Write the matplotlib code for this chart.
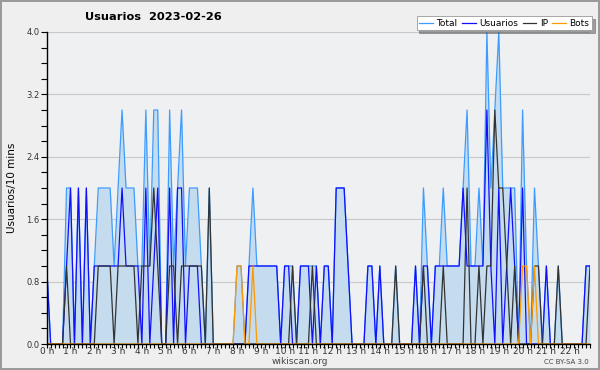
"""
Usuarios por 10 minutos - 2023-02-26 (wikiscan)
"""

import matplotlib
matplotlib.use("Agg")
import matplotlib.pyplot as plt
from matplotlib.ticker import MultipleLocator, FixedLocator
import numpy as np

# values per 10-minute slot, starting at 0:00 (last slot 22:50)
usuarios = [1, 0, 0, 0, 0, 1, 2, 0, 2, 0, 2, 0,
            1, 1, 1, 1, 1, 1, 1, 2, 1, 1, 1, 1,
            0, 2, 0, 1, 2, 0, 0, 2, 0, 2, 2, 0,
            1, 1, 1, 0, 0, 0, 0, 0, 0, 0, 0, 0,
            0, 0, 0, 1, 1, 1, 1, 1, 1, 1, 1, 0,
            1, 1, 0, 0, 1, 1, 1, 0, 1, 0, 1, 1,
            0, 2, 2, 2, 1, 0, 0, 0, 0, 1, 1, 0,
            1, 0, 0, 0, 0, 0, 0, 0, 0, 1, 0, 1,
            1, 0, 1, 1, 1, 1, 1, 1, 1, 2, 1, 1,
            1, 1, 1, 3, 1, 0, 2, 0, 1, 2, 1, 0,
            2, 0, 0, 0, 0, 0, 1, 0, 0, 0, 0, 0,
            0, 0, 0, 0, 1, 1]

ip = [0, 0, 0, 0, 0, 1, 0, 0, 0, 0, 0, 0,
      0, 1, 1, 1, 1, 0, 1, 1, 1, 1, 1, 0,
      1, 1, 1, 2, 1, 0, 0, 1, 1, 0, 1, 1,
      1, 1, 1, 1, 0, 2, 0, 0, 0, 0, 0, 0,
      0, 0, 0, 0, 0, 0, 0, 0, 0, 0, 0, 0,
      0, 0, 1, 0, 0, 0, 0, 1, 0, 0, 0, 0,
      0, 0, 0, 0, 0, 0, 0, 0, 0, 0, 0, 0,
      0, 0, 0, 0, 1, 0, 0, 0, 0, 0, 0, 1,
      0, 0, 0, 0, 1, 0, 0, 0, 0, 0, 2, 0,
      0, 1, 0, 1, 1, 3, 2, 2, 1, 0, 1, 0,
      0, 0, 0, 1, 1, 0, 0, 0, 0, 1, 0, 0,
      0, 0, 0, 0, 0, 1]

bots = [0, 0, 0, 0, 0, 0, 0, 0, 0, 0, 0, 0,
        0, 0, 0, 0, 0, 0, 0, 0, 0, 0, 0, 0,
        0, 0, 0, 0, 0, 0, 0, 0, 0, 0, 0, 0,
        0, 0, 0, 0, 0, 0, 0, 0, 0, 0, 0, 0,
        1, 1, 0, 0, 1, 0, 0, 0, 0, 0, 0, 0,
        0, 0, 0, 0, 0, 0, 0, 0, 0, 0, 0, 0,
        0, 0, 0, 0, 0, 0, 0, 0, 0, 0, 0, 0,
        0, 0, 0, 0, 0, 0, 0, 0, 0, 0, 0, 0,
        0, 0, 0, 0, 0, 0, 0, 0, 0, 0, 0, 0,
        0, 0, 0, 0, 0, 0, 0, 0, 0, 0, 0, 0,
        1, 1, 0, 1, 0, 0, 0, 0, 0, 0, 0, 0,
        0, 0, 0, 0, 0, 0]

total = [1, 0, 0, 0, 0, 2, 2, 0, 2, 0, 2, 0,
         1, 2, 2, 2, 2, 1, 2, 3, 2, 2, 2, 1,
         1, 3, 1, 3, 3, 0, 0, 3, 1, 2, 3, 1,
         2, 2, 2, 1, 0, 2, 0, 0, 0, 0, 0, 0,
         1, 1, 0, 1, 2, 1, 1, 1, 1, 1, 1, 0,
         1, 1, 1, 0, 1, 1, 1, 1, 1, 0, 1, 1,
         0, 2, 2, 2, 1, 0, 0, 0, 0, 1, 1, 0,
         1, 0, 0, 0, 1, 0, 0, 0, 0, 1, 0, 2,
         1, 0, 1, 1, 2, 1, 1, 1, 1, 2, 3, 1,
         1, 2, 1, 4, 2, 3, 4, 2, 2, 2, 2, 0,
         3, 1, 0, 2, 1, 0, 1, 0, 0, 1, 0, 0,
         0, 0, 0, 0, 1, 1]

hour_labels = ["%d h" % h for h in range(23)]

x = np.arange(len(total)) / 6.0  # hours

fig = plt.figure(figsize=(6, 3.7), dpi=100)
fig.patch.set_facecolor("#efefef")
fig.patch.set_edgecolor("#9a9a9a")
fig.patch.set_linewidth(1.5)

ax = fig.add_axes([46.7 / 600, 1 - 344 / 370, (590 - 46.7) / 600, (344 - 32) / 370])
ax.set_facecolor("#eef0f2")

# total filled, then the other series on top
ax.fill_between(x, total, 0, color="#c5dcef", lw=0)
ax.plot(x, total, color="#3d9cff", lw=0.9, label="Total")
ax.plot(x, usuarios, color="#1010ff", lw=0.9, label="Usuarios")
ax.plot(x, ip, color="#333333", lw=0.9, label="IP")
ax.plot(x, bots, color="#ff9900", lw=0.9, label="Bots")

ax.set_xlim(0, x[-1])
ax.set_ylim(0, 4.0)

ax.yaxis.set_major_locator(MultipleLocator(0.8))
ax.yaxis.set_minor_locator(MultipleLocator(0.2))
ax.yaxis.set_major_formatter(matplotlib.ticker.FormatStrFormatter("%.1f"))
ax.xaxis.set_major_locator(FixedLocator(range(23)))
ax.set_xticklabels(hour_labels)
ax.xaxis.set_minor_locator(MultipleLocator(1 / 6.0))

ax.tick_params(axis="both", which="both", direction="out", color="black", width=0.8)
ax.tick_params(axis="y", which="major", length=4, labelsize=6, pad=1, labelcolor="#333333")
ax.tick_params(axis="y", which="minor", length=4)
ax.tick_params(axis="x", which="major", length=3, labelsize=6.5, pad=-0.5, labelcolor="#333333")
ax.tick_params(axis="x", which="minor", length=3)

ax.grid(axis="y", which="major", color="#c8c8c8", lw=0.8)
ax.set_axisbelow(True)
for s in ["top", "right"]:
    ax.spines[s].set_visible(False)
for s in ["left", "bottom"]:
    ax.spines[s].set_linewidth(1.0)

ax.set_ylabel("Usuarios/10 mins", fontsize=7.5, labelpad=7)

fig.text(85 / 600, 1 - 17 / 370, "Usuarios  2023-02-26", fontsize=8.2, fontweight="bold",
         va="center", ha="left")

leg = fig.legend(loc="upper right", bbox_to_anchor=(592 / 600, 1 - 16 / 370), ncol=4,
                 fontsize=6.5, frameon=True, fancybox=False, shadow=True,
                 handlelength=1.5, handletextpad=0.4, columnspacing=0.5,
                 borderpad=0.3, borderaxespad=0)
leg.get_frame().set_edgecolor("#999999")
leg.get_frame().set_linewidth(0.6)

fig.text(300 / 600, 1 - 362 / 370, "wikiscan.org", fontsize=6.5, color="#444444",
         ha="center", va="center")
fig.text(589 / 600, 1 - 362 / 370, "CC BY-SA 3.0", fontsize=5, color="#444444",
         ha="right", va="center")

fig.savefig("out.png", dpi=100, facecolor=fig.get_facecolor(), edgecolor=fig.get_edgecolor())
